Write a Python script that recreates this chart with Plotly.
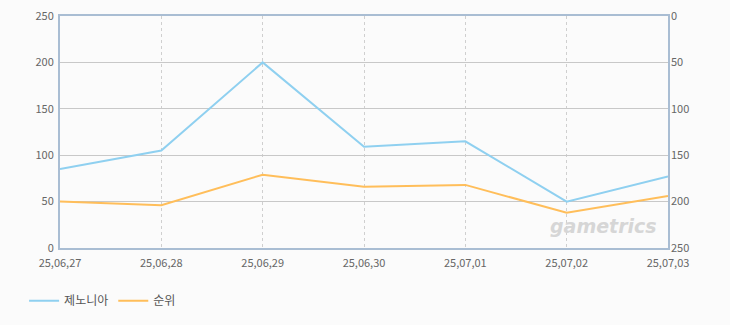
import plotly.graph_objects as go

dates = ["25,06,27", "25,06,28", "25,06,29", "25,06,30", "25,07,01", "25,07,02", "25,07,03"]
xenonia = [85, 105, 200, 109, 115, 50, 77]
rank = [200, 204, 171, 184, 182, 212, 194]
left_ticks = [0, 50, 100, 150, 200, 250]
right_ticks = [0, 50, 100, 150, 200, 250]

fig = go.Figure()
fig.add_trace(go.Scatter(x=dates, y=xenonia, name="제노니아", mode="lines",
                         line=dict(color="#8fd0f0", width=2)))
fig.add_trace(go.Scatter(x=dates, y=rank, name="순위", mode="lines", yaxis="y2",
                         line=dict(color="#ffbe5a", width=2)))

axis_line = "#a9bdd3"
tick_font = dict(size=11, color="#666666")

fig.update_layout(
    width=730, height=325,
    margin=dict(l=60, r=62, t=16, b=77, autoexpand=False),
    paper_bgcolor="#fbfbfb", plot_bgcolor="#fbfbfb",
    font=dict(family="Noto Sans CJK KR, Noto Sans, sans-serif", size=11, color="#666666"),
    showlegend=True,
    legend=dict(orientation="h", x=0.033, xref="container", xanchor="left",
                y=0.075, yref="container", yanchor="middle",
                font=dict(size=12, color="#555555"), itemwidth=30,
                bgcolor="rgba(0,0,0,0)"),
    xaxis=dict(type="category", range=[0, 6], showgrid=True, gridcolor="#cfcfcf",
               griddash="3px,3px", gridwidth=1, showline=True, linecolor=axis_line, linewidth=2,
               mirror=True, ticks="", tickfont=tick_font, zeroline=False,
               ticklabelstandoff=4, automargin=False),
    yaxis=dict(range=[0, 250], tickvals=left_ticks, showgrid=True, gridcolor="#c8c8c8",
               gridwidth=1, showline=True, linecolor=axis_line, linewidth=2, mirror=True,
               ticks="", zeroline=False, tickfont=tick_font, automargin=False,
               ticklabelstandoff=2),
    yaxis2=dict(range=[250, 0], tickvals=right_ticks, overlaying="y", side="right",
                showgrid=False, showline=False, ticks="", zeroline=False,
                tickfont=tick_font, automargin=False, ticklabelstandoff=2),
)

fig.add_annotation(text="<b><i>gametrics</i></b>", xref="paper", yref="paper",
                   x=0.985, y=0.04, xanchor="right", yanchor="bottom", showarrow=False,
                   font=dict(family="DejaVu Sans, sans-serif", size=19, color="#d6d6d6"))

fig.write_html("out.html")
